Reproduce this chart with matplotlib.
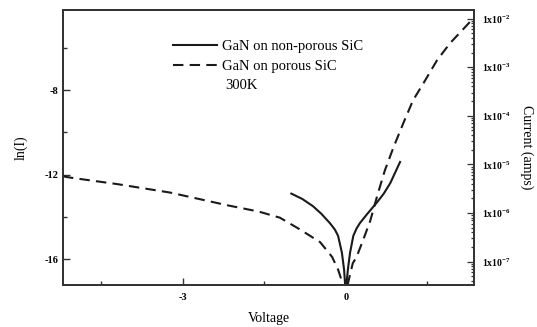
import numpy as np
import matplotlib
matplotlib.use("Agg")
import matplotlib.pyplot as plt
from matplotlib.ticker import FixedLocator, FuncFormatter, LogLocator, NullFormatter

plt.rcParams["font.family"] = ["Liberation Serif", "DejaVu Serif"]
plt.rcParams["mathtext.fontset"] = "custom"
plt.rcParams["mathtext.rm"] = "Liberation Serif"
plt.rcParams["mathtext.bf"] = "Liberation Serif:bold"

# --- data (voltage, ln(I)) ---
v_nonporous = [-1.0, -0.8, -0.6, -0.45, -0.29, -0.2, -0.14, -0.07, -0.03, 0.0,
               0.04, 0.08, 0.14, 0.2, 0.26, 0.4, 0.58, 0.7, 0.82, 1.0]
ln_nonporous = [-12.9, -13.15, -13.5, -13.85, -14.3, -14.6, -14.9, -15.7, -16.5, -17.6,
                -16.5, -15.7, -14.9, -14.55, -14.3, -13.85, -13.3, -12.9, -12.4, -11.4]

v_porous = [-5.2, -5.07, -4.2, -3.23, -2.18, -1.6, -1.21, -0.84, -0.47, -0.25, -0.14, 0.0,
            0.13, 0.2, 0.32, 0.45, 0.58, 0.72, 0.88, 1.06, 1.24, 1.43, 1.68, 1.92, 2.2, 2.29]
ln_porous = [-12.08, -12.14, -12.45, -12.85, -13.45, -13.75, -14.04, -14.6, -15.2, -15.9, -16.5, -17.6,
             -16.2, -15.9, -15.1, -14.2, -13.0, -11.8, -10.7, -9.56, -8.47, -7.67, -6.58, -5.77, -5.0, -4.75]

x_major = [-3, 0]
x_minor = [-4.5, -1.5, 1.5]
y_major = [-8, -12, -16]
y_minor = [-6, -10, -14]
amp_ticks = [1e-7, 1e-6, 1e-5, 1e-4, 1e-3, 1e-2]

xlim = (-5.2, 2.36)
ylim = (-17.23, -4.2)

fig = plt.figure(figsize=(5.37, 3.27), dpi=100)
ax = fig.add_axes([0.1173, 0.1284, 0.7654, 0.841])

ax.plot(v_nonporous, ln_nonporous, color="#1a1a1a", lw=1.5, label="GaN on non-porous SiC")
ax.plot(v_porous, ln_porous, color="#1a1a1a", lw=1.5, linestyle=(0, (5, 3)),
        label="GaN on porous SiC")

ax.set_xlim(*xlim)
ax.set_ylim(*ylim)
ax.xaxis.set_major_locator(FixedLocator(x_major))
ax.xaxis.set_minor_locator(FixedLocator(x_minor))
ax.yaxis.set_major_locator(FixedLocator(y_major))
ax.yaxis.set_minor_locator(FixedLocator(y_minor))
ax.tick_params(which="both", direction="in", top=False, right=False,
               labelsize=7.5, width=1.0, color="#333333")
ax.tick_params(which="major", length=5)
ax.tick_params(which="minor", length=3)
ax.tick_params(axis="x", pad=6)
for lab in ax.get_xticklabels() + ax.get_yticklabels():
    lab.set_fontweight("bold")
ax.xaxis.set_major_formatter(FuncFormatter(lambda v, p: f"{v:g}"))
ax.yaxis.set_major_formatter(FuncFormatter(lambda v, p: f"{v:g}"))
for s in ax.spines.values():
    s.set_linewidth(1.3)
    s.set_color("#333333")

ax.set_xlabel("Voltage", fontsize=10, labelpad=7)
ax.set_ylabel("ln(I)", fontsize=10, labelpad=12)

# right axis: current on log scale, same physical scale as ln(I)
ax2 = ax.twinx()
ax2.set_yscale("log")
ax2.set_ylim(np.exp(ylim[0]), np.exp(ylim[1]))
ax2.yaxis.set_major_locator(FixedLocator(amp_ticks))
ax2.yaxis.set_minor_locator(LogLocator(base=10, subs=np.arange(2, 10)))
ax2.yaxis.set_minor_formatter(NullFormatter())
ax2.yaxis.set_major_formatter(
    FuncFormatter(lambda v, p: r"$\mathbf{1x10^{%d}}$" % int(round(np.log10(v)))))
ax2.tick_params(which="both", direction="in", labelsize=7, width=0.9, color="#333333", pad=6)
ax2.tick_params(which="major", length=5)
ax2.tick_params(which="minor", length=2.5)
ax2.set_ylabel("Current (amps)", fontsize=10, rotation=270, labelpad=16)
for s in ax2.spines.values():
    s.set_linewidth(1.3)
    s.set_color("#333333")

leg = ax.legend(loc="upper left", bbox_to_anchor=(0.268, 0.89), frameon=False,
                fontsize=10.5, handlelength=3.0, handletextpad=0.35, labelspacing=0.45,
                borderaxespad=0, borderpad=0)
ax.text(0.394, 0.727, "300K", transform=ax.transAxes, fontsize=10.5, va="center")

fig.savefig("out.png", dpi=100)
